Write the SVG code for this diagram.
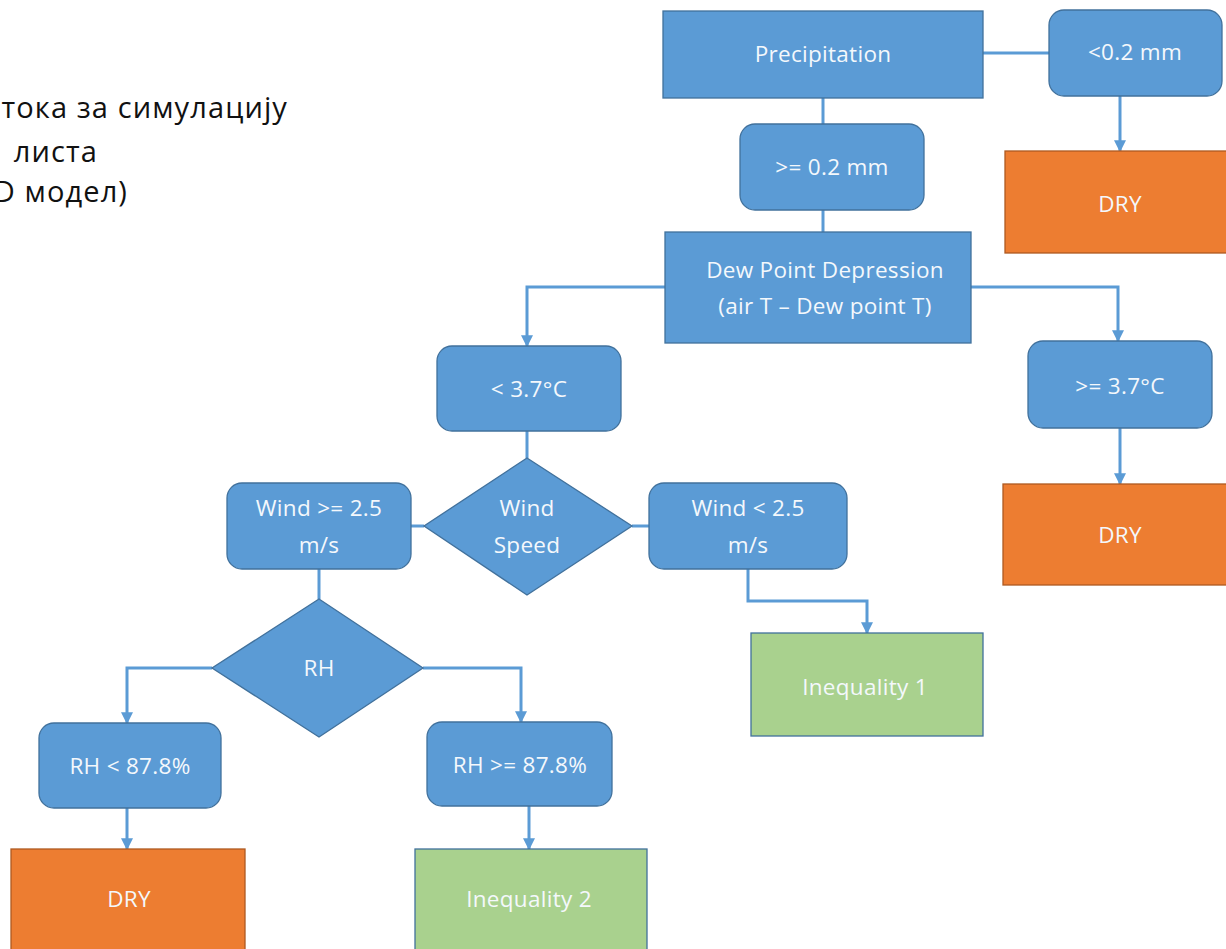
<svg xmlns="http://www.w3.org/2000/svg" width="1226" height="949" viewBox="0 0 1226 949">
<defs>
<marker id="ah" viewBox="0 0 10 10" refX="9" refY="5" markerWidth="4" markerHeight="4" orient="auto" markerUnits="strokeWidth">
<path d="M0,0 L10,5 L0,10 z" fill="#5B9BD5"/>
</marker>
<style>
.b{fill:#5B9BD5;stroke:#41719C;stroke-width:1.3}
.o{fill:#ED7D31;stroke:#AE5A21;stroke-width:1.3}
.g{fill:#A9D18E;stroke:#41719C;stroke-width:1.3}
.t{font-family:"Open Sans","Noto Sans",sans-serif;font-size:22.5px;fill:#F4F8FC;text-anchor:middle;letter-spacing:0.3px}
.h{font-family:"Open Sans","Noto Sans",sans-serif;font-size:29px;fill:#111;text-anchor:end;letter-spacing:1.1px}
.c{fill:none;stroke:#5B9BD5;stroke-width:3}
.ca{fill:none;stroke:#5B9BD5;stroke-width:3;marker-end:url(#ah)}
</style>
</defs>
<rect width="1226" height="949" fill="#fff"/>
<g id="title">
<text class="h" x="288" y="118">тока за симулацију</text>
<text class="h" x="98" y="162">листа</text>
<text class="h" x="128" y="202">D модел)</text>
</g>
<g id="connectors">
<path class="c" d="M983,53 H1049"/>
<path class="ca" d="M1120,96 V151"/>
<path class="c" d="M823,98 V124"/>
<path class="c" d="M823,210 V232"/>
<path class="ca" d="M665,287 H527 V346"/>
<path class="ca" d="M971,287 H1118 V341"/>
<path class="ca" d="M1120,428 V484"/>
<path class="c" d="M527,431 V458"/>
<path class="c" d="M424,526 H411"/>
<path class="c" d="M632,526 H649"/>
<path class="ca" d="M748,569 V601 H867 V633"/>
<path class="c" d="M319,569 V599"/>
<path class="ca" d="M212,668 H127 V723"/>
<path class="ca" d="M423,668 H521 V722"/>
<path class="ca" d="M127,808 V849"/>
<path class="ca" d="M529,806 V849"/>
</g>
<g id="precipitation"><rect class="b" x="663" y="11" width="320" height="87"/><text class="t" x="823" y="62">Precipitation</text></g>
<g id="lt02"><rect class="b" x="1049" y="10" width="173" height="86" rx="15"/><text class="t" x="1135" y="60">&lt;0.2 mm</text></g>
<g id="dry1"><rect class="o" x="1005" y="151" width="225" height="102"/><text class="t" x="1120" y="212">DRY</text></g>
<g id="ge02"><rect class="b" x="740" y="124" width="184" height="86" rx="15"/><text class="t" x="832" y="175">&gt;= 0.2 mm</text></g>
<g id="dewpoint"><rect class="b" x="665" y="232" width="306" height="111"/><text class="t" x="825" y="278">Dew Point Depression</text><text class="t" x="825" y="314">(air T – Dew point T)</text></g>
<g id="lt37"><rect class="b" x="437" y="346" width="184" height="85" rx="15"/><text class="t" x="529" y="397">&lt; 3.7°C</text></g>
<g id="ge37"><rect class="b" x="1028" y="341" width="184" height="87" rx="15"/><text class="t" x="1120" y="394">&gt;= 3.7°C</text></g>
<g id="dry2"><rect class="o" x="1003" y="484" width="227" height="101"/><text class="t" x="1120" y="543">DRY</text></g>
<g id="windspeed"><polygon class="b" points="527,458 632,526 527,595 424,526"/><text class="t" x="527" y="516">Wind</text><text class="t" x="527" y="553">Speed</text></g>
<g id="windge"><rect class="b" x="227" y="483" width="184" height="86" rx="15"/><text class="t" x="319" y="516">Wind &gt;= 2.5</text><text class="t" x="319" y="553">m/s</text></g>
<g id="windlt"><rect class="b" x="649" y="483" width="198" height="86" rx="15"/><text class="t" x="748" y="516">Wind &lt; 2.5</text><text class="t" x="748" y="553">m/s</text></g>
<g id="ineq1"><rect class="g" x="751" y="633" width="232" height="103"/><text class="t" x="865" y="695">Inequality 1</text></g>
<g id="rh"><polygon class="b" points="319,599 423,668 319,737 212,668"/><text class="t" x="319" y="676">RH</text></g>
<g id="rhlt"><rect class="b" x="39" y="723" width="182" height="85" rx="15"/><text class="t" x="130" y="774">RH &lt; 87.8%</text></g>
<g id="rhge"><rect class="b" x="427" y="722" width="185" height="84" rx="15"/><text class="t" x="520" y="773">RH &gt;= 87.8%</text></g>
<g id="dry3"><rect class="o" x="11" y="849" width="234" height="110"/><text class="t" x="129" y="907">DRY</text></g>
<g id="ineq2"><rect class="g" x="415" y="849" width="232" height="110"/><text class="t" x="529" y="907">Inequality 2</text></g>
</svg>
